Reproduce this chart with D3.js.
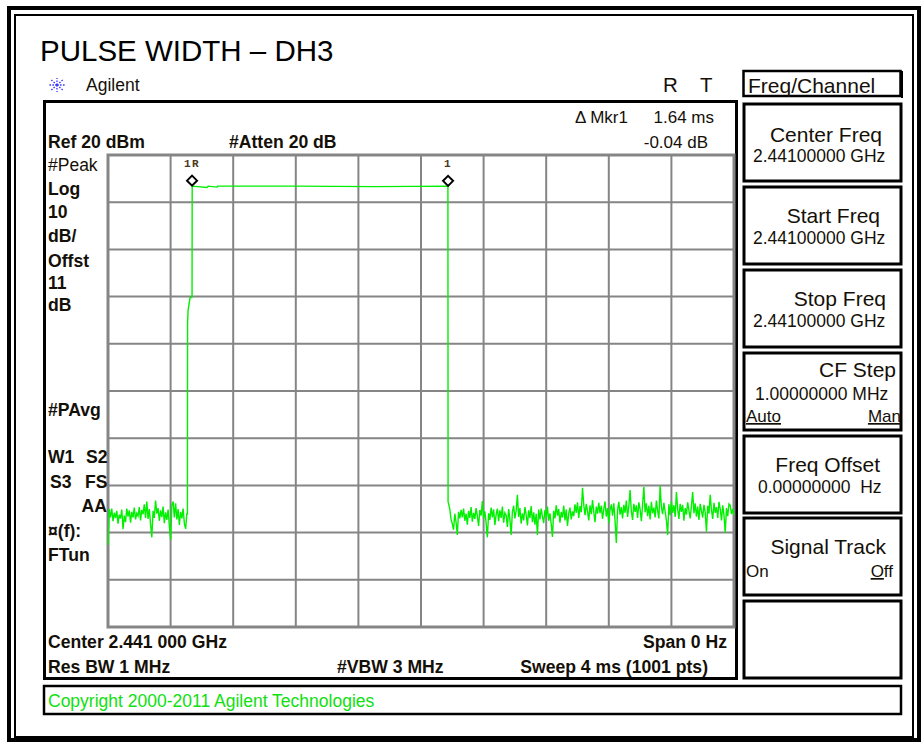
<!DOCTYPE html>
<html>
<head>
<meta charset="utf-8">
<script src="https://cdn.jsdelivr.net/npm/d3@7"></script>
<style>
  body { margin: 0; background: #fff; }
  svg { display: block; font-family: "Liberation Sans", Arial, sans-serif; }
</style>
</head>
<body>
<svg width="923" height="742"></svg>
<script>
// sweep setup (ms / dBm)
const sweepMs = 4;
const refLevel = 20;
const dbPerDiv = 10;
const divisions = 10;
const sampleStep = 0.008; // every 2nd of the 1001 sweep points

// noise floor before the burst, from 0 ms
const noiseLeft = [
  -62.6, -55.0, -56.8, -54.9, -57.6, -55.8, -56.9, -55.4, -58.1, -56.2,
  -57.0, -55.1, -59.3, -56.4, -57.8, -54.9, -56.6, -55.3, -57.9, -55.6,
  -56.8, -54.7, -57.2, -55.9, -56.5, -54.6, -57.4, -55.2, -56.1, -54.0,
  -56.9, -53.4, -57.1, -55.0, -58.2, -61.0, -55.4, -56.9, -53.2, -56.0,
  -54.8, -57.5, -55.3, -56.7, -54.5, -58.0, -55.7, -57.3, -55.1, -58.6,
  -61.5, -54.2, -53.4, -56.8, -53.8, -57.2, -55.0, -58.4, -55.6, -57.0,
  -54.9, -58.1, -59.2, -56.0
];

// burst: rising edge, flat top, falling edge  [ms, dBm]
const burst = [
  [0.5075, -56.0], [0.5085, -15.5], [0.512, -12.8], [0.524, -10.3],
  [0.537, -10.1], [0.538, 13.4], [0.633, 13.1], [0.64, 13.4], [0.697, 13.2],
  [0.70, 13.4], [1.20, 13.4], [1.70, 13.3], [2.172, 13.4], [2.173, -53.5]
];

// noise floor after the burst, from 2.176 ms
const noiseRight = [
  -53.8, -55.0, -57.2, -58.1, -59.4, -56.0, -57.8, -60.5, -55.6, -57.0,
  -55.2, -56.8, -54.9, -57.5, -56.0, -58.3, -55.4, -56.9, -54.6, -57.7,
  -55.8, -57.1, -54.8, -56.5, -58.6, -55.2, -56.4, -53.3, -57.0, -55.5,
  -58.0, -61.0, -55.9, -57.3, -54.7, -56.8, -55.1, -58.4, -56.2, -54.9,
  -57.6, -55.3, -56.9, -54.5, -57.9, -55.8, -56.3, -58.8, -55.0, -57.2,
  -60.5, -55.6, -54.3, -57.0, -55.4, -52.0, -56.7, -54.8, -58.1, -55.9,
  -57.4, -54.6, -56.2, -58.5, -55.3, -56.9, -54.4, -57.8, -55.7, -58.3,
  -56.0, -60.5, -55.1, -57.2, -54.9, -56.6, -58.0, -55.2, -56.8, -54.5,
  -57.5, -55.9, -58.2, -60.9, -55.4, -57.0, -54.2, -56.4, -55.0, -57.9,
  -55.6, -56.8, -54.3, -57.4, -55.1, -58.6, -56.0, -54.7, -57.2, -55.5,
  -56.5, -54.0, -55.8, -53.6, -56.9, -54.4, -55.7, -50.5, -54.1, -56.3,
  -53.9, -55.5, -57.4, -54.2, -56.1, -53.1, -55.6, -57.8, -54.5, -56.0,
  -53.7, -55.9, -54.3, -57.1, -55.0, -53.4, -56.6, -54.8, -58.0, -55.2,
  -54.0, -56.4, -53.8, -57.5, -62.2, -55.3, -53.5, -56.2, -54.6, -57.0,
  -54.1, -55.8, -53.2, -56.7, -54.4, -51.0, -55.5, -57.3, -53.9, -55.6,
  -54.2, -56.9, -53.6, -55.1, -57.6, -54.0, -50.3, -55.7, -53.8, -56.5,
  -54.3, -57.2, -53.5, -55.9, -54.7, -56.8, -53.2, -55.4, -57.0, -50.1,
  -54.6, -56.1, -53.7, -55.5, -57.4, -60.5, -54.0, -56.3, -53.4, -55.8,
  -54.2, -56.7, -51.4, -55.0, -57.1, -53.9, -55.6, -54.1, -57.5, -54.8,
  -56.2, -53.6, -55.3, -57.0, -54.4, -51.4, -55.9, -53.8, -56.6, -54.5,
  -57.3, -53.9, -55.4, -56.8, -54.1, -55.7, -59.8, -54.3, -56.0, -52.0,
  -55.2, -57.1, -53.7, -55.8, -54.6, -56.9, -53.5, -55.0, -57.4, -54.2,
  -56.3, -60.0, -54.8, -56.5, -53.9, -54.2, -56.1, -55.0, -56.3
];
const noiseRightStart = 2.176;

// markers: 1R (reference) and 1 (delta)
const markerNames = ["1R", "1"];
const markerTimes = [0.537, 2.173];
const markerLevels = [13.4, 13.36];

const svg = d3.select("svg");
const ink = "#141008";

// page frame
svg.append("rect").attr("x", 9).attr("y", 8).attr("width", 910).attr("height", 732)
  .attr("fill", "none").attr("stroke", "#000").attr("stroke-width", 4);
svg.append("rect").attr("x", 15).attr("y", 15).attr("width", 898).attr("height", 722)
  .attr("fill", "none").attr("stroke", "#000").attr("stroke-width", 2);

svg.append("text").attr("x", 40).attr("y", 61)
  .attr("font-size", 29.5).attr("fill", "#000")
  .text("PULSE WIDTH \u2013 DH3");

// Agilent logo (spark) + name
const logo = svg.append("g").attr("transform", "translate(57,85)")
  .attr("stroke", "#3b3bff").attr("stroke-width", 1.4).attr("stroke-dasharray", "1.6,1.4");
d3.range(8).forEach(i => {
  const a = i * Math.PI / 4;
  logo.append("line").attr("x1", 0).attr("y1", 0)
    .attr("x2", 8 * Math.cos(a)).attr("y2", 7 * Math.sin(a));
});
svg.append("text").attr("x", 86).attr("y", 91).attr("font-size", 17.5).attr("fill", ink).text("Agilent");

svg.append("text").attr("x", 663).attr("y", 92).attr("font-size", 20.5).attr("fill", ink).text("R");
svg.append("text").attr("x", 700).attr("y", 92).attr("font-size", 20.5).attr("fill", ink).text("T");

// instrument screen frame
svg.append("rect").attr("x", 44.5).attr("y", 101.5).attr("width", 692).attr("height", 577)
  .attr("fill", "none").attr("stroke", "#000").attr("stroke-width", 3);

// scales
const x = d3.scaleLinear().domain([0, sweepMs]).range([108, 734]);
const y = d3.scaleLinear().domain([refLevel - divisions * dbPerDiv, refLevel]).range([627, 155]);
const xDiv = d3.range(divisions + 1).map(i => sweepMs * i / divisions);
const yDiv = d3.range(divisions + 1).map(i => refLevel - i * dbPerDiv);

// graticule
const grid = svg.append("g").attr("stroke", "#858585").attr("stroke-width", 2);
grid.selectAll(".vx").data(xDiv).enter().append("line")
  .attr("x1", d => x(d)).attr("x2", d => x(d)).attr("y1", y.range()[1]).attr("y2", y.range()[0]);
grid.selectAll(".hy").data(yDiv).enter().append("line")
  .attr("y1", d => y(d)).attr("y2", d => y(d)).attr("x1", x.range()[0]).attr("x2", x.range()[1]);
grid.append("rect").attr("x", x.range()[0]).attr("y", y.range()[1])
  .attr("width", x.range()[1] - x.range()[0]).attr("height", y.range()[0] - y.range()[1])
  .attr("fill", "none").attr("stroke-width", 3);

// trace
const trace = noiseLeft.map((v, i) => [i * sampleStep, v])
  .concat(burst)
  .concat(noiseRight.map((v, i) => [noiseRightStart + i * sampleStep, v]));

const line = d3.line().x(d => x(d[0])).y(d => y(d[1]));
svg.append("path").datum(trace)
  .attr("d", line)
  .attr("fill", "none").attr("stroke", "#00f000").attr("stroke-width", 1.4)
  .attr("stroke-linejoin", "miter");

// markers
const mk = svg.selectAll(".mk").data(markerNames).enter().append("g")
  .attr("transform", (d, i) => `translate(${x(markerTimes[i])},${y(markerLevels[i]) - 5.5})`);
mk.append("path").attr("d", "M0,-5L5,0L0,5L-5,0Z")
  .attr("fill", "#fff").attr("stroke", "#000").attr("stroke-width", 2);
mk.append("text").attr("y", -14).attr("text-anchor", "middle")
  .attr("font-family", "'Liberation Mono', monospace").attr("font-weight", "bold")
  .attr("font-size", 11).attr("letter-spacing", 1.5).attr("fill", "#4a3a20").text(d => d);

// annotation text
const bold = [
  ["Ref 20 dBm", 48, 148], ["#Atten 20 dB", 229, 148],
  ["Log", 48, 195], ["10", 48, 218], ["dB/", 48, 242], ["Offst", 48, 267],
  ["11", 48, 289], ["dB", 48, 311], ["#PAvg", 48, 416],
  ["W1", 48, 463], ["S2", 86, 463], ["S3", 50, 488], ["FS", 85, 488],
  ["\u00a4(f):", 48, 537], ["FTun", 48, 561],
  ["Center 2.441 000 GHz", 48, 648], ["Res BW 1 MHz", 48, 673],
  ["#VBW 3 MHz", 337, 673]
];
svg.selectAll(".bl").data(bold).enter().append("text")
  .attr("x", d => d[1]).attr("y", d => d[2])
  .attr("font-size", 17.6).attr("font-weight", "bold").attr("fill", ink)
  .text(d => d[0]);

const boldEnd = [["AA", 107, 512], ["Span 0 Hz", 727, 648], ["Sweep 4 ms (1001 pts)", 708, 673]];
svg.selectAll(".be").data(boldEnd).enter().append("text")
  .attr("x", d => d[1]).attr("y", d => d[2]).attr("text-anchor", "end")
  .attr("font-size", 17.6).attr("font-weight", "bold").attr("fill", ink)
  .text(d => d[0]);

svg.append("text").attr("x", 48).attr("y", 171).attr("font-size", 17.5).attr("fill", ink).text("#Peak");
svg.append("text").attr("x", 575).attr("y", 123).attr("font-size", 17).attr("fill", ink).text("\u0394 Mkr1");
svg.append("text").attr("x", 714).attr("y", 123).attr("text-anchor", "end").attr("font-size", 17).attr("fill", ink).text("1.64 ms");
svg.append("text").attr("x", 708).attr("y", 148).attr("text-anchor", "end").attr("font-size", 17).attr("fill", ink).text("-0.04 dB");

// copyright bar
svg.append("rect").attr("x", 44).attr("y", 686).attr("width", 857).attr("height", 28)
  .attr("fill", "none").attr("stroke", "#000").attr("stroke-width", 2.5);
svg.append("text").attr("x", 48).attr("y", 707).attr("font-size", 17.5).attr("fill", "#10e010")
  .text("Copyright 2000-2011 Agilent Technologies");

// soft-key panel
svg.append("rect").attr("x", 743.5).attr("y", 71).attr("width", 157).attr("height", 25)
  .attr("fill", "none").attr("stroke", "#000").attr("stroke-width", 2.5);
svg.append("line").attr("x1", 902).attr("x2", 902).attr("y1", 71).attr("y2", 98).attr("stroke", "#000").attr("stroke-width", 2);
svg.append("text").attr("x", 748).attr("y", 93).attr("font-size", 21).attr("fill", ink).text("Freq/Channel");

const keyTops = [103, 186, 269, 352, 435, 517, 600];
svg.selectAll(".key").data(keyTops).enter().append("rect")
  .attr("x", 744).attr("y", d => d + 1).attr("width", 157).attr("height", 77)
  .attr("fill", "none").attr("stroke", "#000").attr("stroke-width", 3);

const keyText = [
  ["Center Freq", 882, 142, 21, "end"], ["2.44100000 GHz", 753, 162, 17.5, "start"],
  ["Start Freq", 880, 223, 21, "end"], ["2.44100000 GHz", 753, 244, 17.5, "start"],
  ["Stop Freq", 886, 306, 21, "end"], ["2.44100000 GHz", 753, 327, 17.5, "start"],
  ["CF Step", 896, 377, 21, "end"], ["1.00000000 MHz", 755, 400, 17.5, "start"],
  ["Freq Offset", 880, 472, 21, "end"], ["0.00000000  Hz", 758, 493, 17.5, "start"],
  ["Signal Track", 886, 554, 21, "end"]
];
svg.selectAll(".kt").data(keyText).enter().append("text")
  .attr("x", d => d[1]).attr("y", d => d[2]).attr("font-size", d => d[3])
  .attr("text-anchor", d => d[4]).attr("fill", ink)
  .style("white-space", "pre").text(d => d[0]);

svg.append("text").attr("x", 746).attr("y", 422).attr("font-size", 17).attr("fill", ink)
  .attr("text-decoration", "underline").text("Auto");
svg.append("text").attr("x", 901).attr("y", 422).attr("text-anchor", "end").attr("font-size", 17).attr("fill", ink)
  .attr("text-decoration", "underline").text("Man");
svg.append("text").attr("x", 746).attr("y", 577).attr("font-size", 17).attr("fill", ink).text("On");
const off = svg.append("text").attr("x", 893).attr("y", 577).attr("text-anchor", "end").attr("font-size", 17).attr("fill", ink);
off.append("tspan").attr("text-decoration", "underline").text("O");
off.append("tspan").text("ff");
</script>
</body>
</html>
